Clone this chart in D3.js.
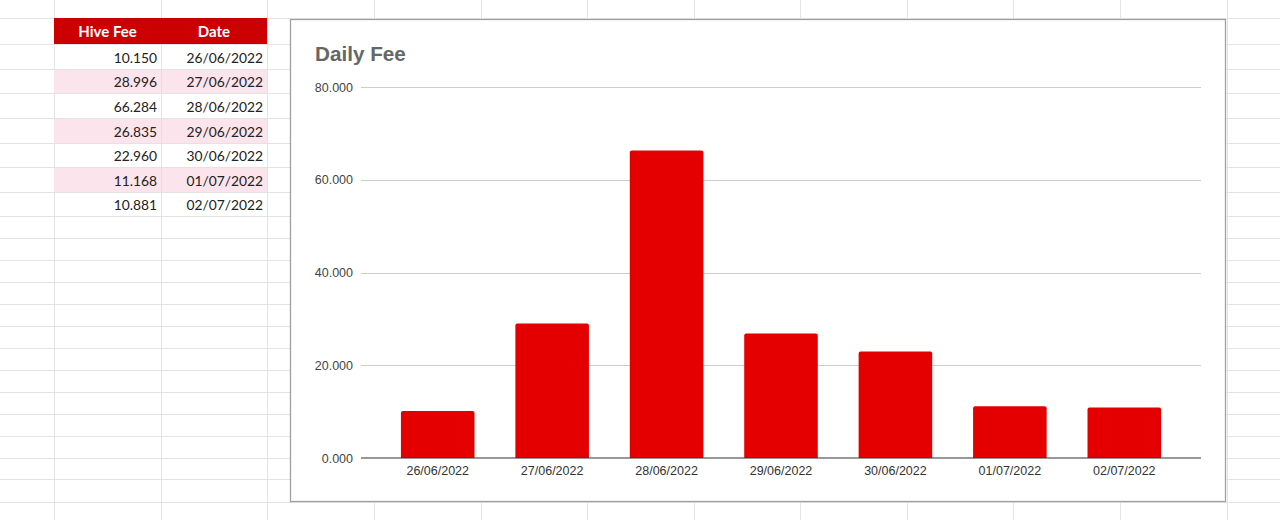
<!DOCTYPE html>
<html>
<head>
<meta charset="utf-8">
<script src="https://cdn.jsdelivr.net/npm/d3@7"></script>
<style>
  html, body { margin: 0; padding: 0; background: #fff; overflow: hidden; }
  svg { display: block; }
</style>
</head>
<body>
<svg id="chart" width="1280" height="520"></svg>
<script>
// ---- data ----
const dates = ["26/06/2022", "27/06/2022", "28/06/2022", "29/06/2022", "30/06/2022", "01/07/2022", "02/07/2022"];
const hiveFee = [10.150, 28.996, 66.284, 26.835, 22.960, 11.168, 10.881];
const yTicks = [0, 20, 40, 60, 80];
const tableHeaders = ["Hive Fee", "Date"];
const chartTitle = "Daily Fee";

// ---- layout ----
const svg = d3.select("#chart");
const W = 1280, H = 520;
const colX = [54, 161, 267, 374, 481, 587, 694, 800, 907, 1013, 1120, 1227];
const rowY = [18, 44, 69, 93, 118, 143, 167, 192, 216, 238, 260, 282, 304, 326, 348, 370, 392, 414, 436, 458, 479, 502];

// spreadsheet grid
const grid = svg.append("g").attr("stroke", "#e3e3e3").attr("stroke-width", 1);
grid.selectAll("line.v").data(colX).join("line")
  .attr("x1", d => d + 0.5).attr("x2", d => d + 0.5).attr("y1", 0).attr("y2", H);
grid.selectAll("line.h").data(rowY).join("line")
  .attr("x1", 0).attr("x2", W).attr("y1", d => d + 0.5).attr("y2", d => d + 0.5);

// table
const tbl = svg.append("g");
const tX0 = colX[0], tX1 = colX[1], tX2 = colX[2];
tbl.append("rect").attr("x", tX0).attr("y", rowY[0]).attr("width", tX2 - tX0).attr("height", rowY[1] - rowY[0]).attr("fill", "#cc0000");
tbl.selectAll("text.hdr").data(tableHeaders).join("text")
  .attr("x", (d, i) => i === 0 ? (tX0 + tX1) / 2 : (tX1 + tX2) / 2)
  .attr("y", rowY[1] - 7.5)
  .attr("text-anchor", "middle")
  .attr("font-family", "Lato, 'Open Sans', sans-serif")
  .attr("font-weight", "bold")
  .attr("font-size", "15px")
  .attr("fill", "#fff")
  .text(d => d);

const rowsG = tbl.selectAll("g.row").data(hiveFee.map((v, i) => ({ v, d: dates[i], i }))).join("g");
rowsG.filter(r => r.i % 2 === 1).append("rect")
  .attr("x", tX0).attr("y", r => rowY[r.i + 1] + 1).attr("width", tX2 - tX0)
  .attr("height", r => rowY[r.i + 2] - rowY[r.i + 1] - 1).attr("fill", "#fce4ec");
rowsG.filter(r => r.i % 2 === 1).append("line")
  .attr("x1", tX1 + 0.5).attr("x2", tX1 + 0.5)
  .attr("y1", r => rowY[r.i + 1]).attr("y2", r => rowY[r.i + 2])
  .attr("stroke", "#eadbe0");
const fmt3 = d3.format(".3f");
rowsG.append("text")
  .attr("x", tX1 - 4).attr("y", r => rowY[r.i + 2] - 6)
  .attr("text-anchor", "end")
  .attr("font-family", "Lato, 'Open Sans', sans-serif").attr("font-size", "13.8px").attr("fill", "#222")
  .text(r => fmt3(r.v));
rowsG.append("text")
  .attr("x", tX2 - 4).attr("y", r => rowY[r.i + 2] - 6)
  .attr("text-anchor", "end")
  .attr("font-family", "Lato, 'Open Sans', sans-serif").attr("font-size", "13.8px").attr("fill", "#222")
  .text(r => r.d);

// chart box
const box = { x: 290, y: 19, w: 936, h: 483 };
svg.append("rect").attr("x", box.x + 0.5).attr("y", box.y + 0.5).attr("width", box.w - 1).attr("height", box.h - 1)
  .attr("fill", "#fff").attr("stroke", "#a0a0a0").attr("stroke-width", 1.3);

svg.append("text").attr("x", 315).attr("y", 61)
  .attr("font-family", "Arial, 'Liberation Sans', sans-serif").attr("font-weight", "bold")
  .attr("font-size", "20.7px").attr("fill", "#666").text(chartTitle);

const plotL = 361, plotR = 1201;
const y = d3.scaleLinear().domain([0, 80]).range([458, 87]);
const x = d3.scaleBand().domain(dates).range([380.5, 1181.5]).paddingInner(0.357).paddingOuter(0.1785);

const yAxis = d3.axisLeft(y).tickValues(yTicks).tickFormat(fmt3).tickSize(0).tickPadding(0);
const yg = svg.append("g").attr("transform", `translate(${plotL - 8},0)`).call(yAxis);
yg.select(".domain").remove();
yg.selectAll("text").attr("font-family", "Arial, 'Liberation Sans', sans-serif").attr("font-size", "12.5px").attr("fill", "#444");

svg.append("g").selectAll("line").data(yTicks.filter(t => t !== 0)).join("line")
  .attr("x1", plotL).attr("x2", plotR)
  .attr("y1", d => Math.round(y(d)) + 0.5).attr("y2", d => Math.round(y(d)) + 0.5)
  .attr("stroke", "#cccccc").attr("stroke-width", 1);

// bars with slightly rounded top corners
const r = 2;
svg.append("g").selectAll("path").data(hiveFee.map((v, i) => ({ v, d: dates[i] }))).join("path")
  .attr("fill", "#e50000")
  .attr("d", b => {
    const x0 = x(b.d), x1 = x0 + x.bandwidth(), yt = y(b.v), yb = y(0);
    return `M${x0},${yb}V${yt + r}Q${x0},${yt} ${x0 + r},${yt}H${x1 - r}Q${x1},${yt} ${x1},${yt + r}V${yb}Z`;
  });

// baseline
svg.append("line").attr("x1", plotL).attr("x2", plotR).attr("y1", y(0)).attr("y2", y(0))
  .attr("stroke", "#333").attr("stroke-width", 1.2);

const xAxis = d3.axisBottom(x).tickSize(0).tickPadding(0);
const xg = svg.append("g").attr("transform", `translate(0,${y(0)})`).call(xAxis);
xg.select(".domain").remove();
xg.selectAll("text").attr("dy", null).attr("y", 17)
  .attr("font-family", "Arial, 'Liberation Sans', sans-serif").attr("font-size", "12.5px").attr("fill", "#333");
</script>
</body>
</html>
